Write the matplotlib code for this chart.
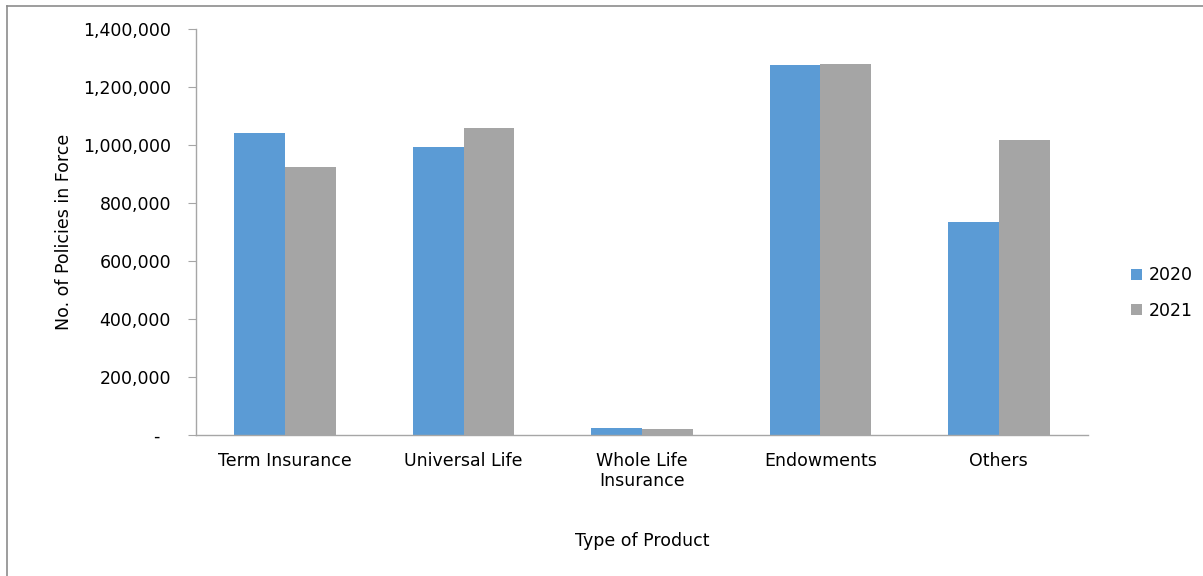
import matplotlib.pyplot as plt
import numpy as np
from matplotlib.lines import Line2D
from matplotlib.ticker import FuncFormatter

categories = ["Term Insurance", "Universal Life", "Whole Life\nInsurance", "Endowments", "Others"]
years = ["2020", "2021"]
values_2020 = [1041000, 993000, 23000, 1276000, 734000]
values_2021 = [924000, 1059000, 22000, 1279000, 1017000]
y_ticks = [0, 200000, 400000, 600000, 800000, 1000000, 1200000, 1400000]

BLUE = "#5B9BD5"
GRAY = "#A5A5A5"
AXIS = "#A6A6A6"

plt.rcParams["font.family"] = ["DejaVu Sans"]


def fmt(value: float, _pos: int) -> str:
    if value == 0:
        return "-  "
    return f"{int(value):,}"


figure = plt.figure(figsize=(12.03, 5.76), dpi=100)
axis = figure.add_axes([196 / 1203, 1 - 435 / 576, (1088 - 196) / 1203, (435 - 29) / 576])

x = np.arange(len(categories))
width = 0.285
axis.bar(x - width / 2, values_2020, width, color=BLUE, label=years[0])
axis.bar(x + width / 2, values_2021, width, color=GRAY, label=years[1])

axis.set_xlim(-0.5, len(categories) - 0.5)
axis.set_ylim(0, 1400000)
axis.set_yticks(y_ticks)
axis.yaxis.set_major_formatter(FuncFormatter(fmt))
axis.set_xticks(x)
axis.set_xticklabels(categories, va="top")

for side in ("top", "right"):
    axis.spines[side].set_visible(False)
for side in ("left", "bottom"):
    axis.spines[side].set_color(AXIS)
    axis.spines[side].set_linewidth(1.0)

axis.tick_params(axis="y", length=6, color=AXIS, labelsize=12.5, pad=12)
axis.tick_params(axis="x", length=0, labelsize=12.5, pad=12)

axis.set_ylabel("No. of Policies in Force", fontsize=12.5, labelpad=7)
axis.set_xlabel("Type of Product", fontsize=12.5, labelpad=30)

axis.legend(
    loc="center left",
    bbox_to_anchor=(1.031, 0.35),
    frameon=False,
    fontsize=12.5,
    handlelength=0.6,
    handleheight=0.6,
    handletextpad=0.4,
    labelspacing=1.0,
)

# chart frame: only the top and left edges show in the reference
frame_color = "#8C8C8C"
figure.add_artist(Line2D([7 / 1203, 1.0], [1 - 6 / 576, 1 - 6 / 576],
                         transform=figure.transFigure, color=frame_color, linewidth=1.2))
figure.add_artist(Line2D([7 / 1203, 7 / 1203], [0.0, 1 - 6 / 576],
                         transform=figure.transFigure, color=frame_color, linewidth=1.2))

figure.savefig("out.png", dpi=100)
